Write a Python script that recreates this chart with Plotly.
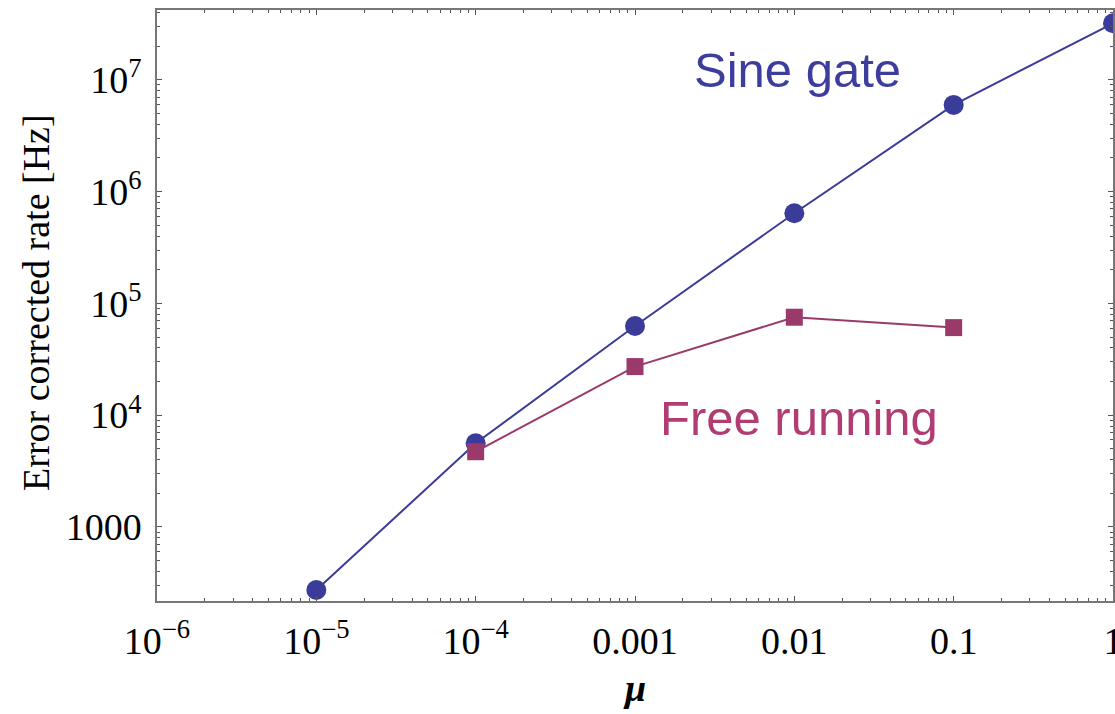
import plotly.graph_objects as go

# Error corrected detection rate versus mean photon number mu
mu = [1e-5, 1e-4, 1e-3, 1e-2, 1e-1, 1.0]
sine_gate_rate = [273, 5610, 62800, 640000, 5.96e6, 3.2e7]

mu_free = [1e-4, 1e-3, 1e-2, 1e-1]
free_running_rate = [4710, 27200, 75200, 60700]

x_tick_vals = [1e-6, 1e-5, 1e-4, 1e-3, 1e-2, 1e-1, 1]
x_tick_text = ["10<sup>\u22126</sup>", "10<sup>\u22125</sup>", "10<sup>\u22124</sup>",
               "0.001", "0.01", "0.1", "1"]
y_tick_vals = [1e3, 1e4, 1e5, 1e6, 1e7]
y_tick_text = ["1000", "10<sup>4</sup>", "10<sup>5</sup>", "10<sup>6</sup>", "10<sup>7</sup>"]

BLUE = "#3b3b99"
BLUE_TEXT = "#3d3d9e"
PLUM = "#9a3a6a"
PLUM_TEXT = "#b03c72"
SERIF = "Liberation Serif"
SANS = "Liberation Sans"

fig = go.Figure()
fig.add_trace(go.Scatter(
    x=mu, y=sine_gate_rate, mode="lines+markers",
    line=dict(color=BLUE, width=2),
    marker=dict(symbol="circle", size=20, color=BLUE),
    showlegend=False,
))
fig.add_trace(go.Scatter(
    x=mu_free, y=free_running_rate, mode="lines+markers",
    line=dict(color=PLUM, width=2),
    marker=dict(symbol="square", size=17, color=PLUM),
    showlegend=False,
))

axis_common = dict(
    type="log",
    showgrid=False,
    zeroline=False,
    showline=True,
    linecolor="#777777",
    linewidth=1.5,
    mirror="allticks",
    ticks="inside",
    ticklen=5,
    tickwidth=1,
    tickcolor="#555555",
    tickmode="array",
    ticklabeloverflow="allow",
    automargin=False,
    tickfont=dict(family=SERIF, size=38, color="black"),
    minor=dict(dtick="D1", ticks="inside", ticklen=3, tickwidth=1,
               tickcolor="#555555", showgrid=False),
)

fig.update_xaxes(**axis_common, range=[-6, 0],
                 tickvals=x_tick_vals, ticktext=x_tick_text, ticklabelstandoff=6)
fig.update_yaxes(**axis_common, range=[2.338, 7.624],
                 tickvals=y_tick_vals, ticktext=y_tick_text, ticklabelstandoff=6)

fig.update_layout(
    width=1115, height=714,
    margin=dict(l=157, r=2, t=10, b=113, autoexpand=False),
    paper_bgcolor="white", plot_bgcolor="white",
    annotations=[
        dict(text="Sine gate", xref="paper", yref="paper", x=0.6705, y=0.898,
             xanchor="center", yanchor="middle", showarrow=False,
             font=dict(family=SANS, size=49, color=BLUE_TEXT)),
        dict(text="Free running", xref="paper", yref="paper", x=0.6715, y=0.3096,
             xanchor="center", yanchor="middle", showarrow=False,
             font=dict(family=SANS, size=49, color=PLUM_TEXT)),
        dict(text="Error corrected rate [Hz]", xref="paper", yref="paper",
             x=-0.1266, y=0.506, textangle=-90,
             xanchor="center", yanchor="middle", showarrow=False,
             font=dict(family=SERIF, size=38, color="black")),
        dict(text="<b><i>\u03bc</i></b>", xref="paper", yref="paper",
             x=0.499, y=-0.147, xanchor="center", yanchor="middle", showarrow=False,
             font=dict(family=SERIF, size=38, color="black")),
    ],
)

fig.write_html("out.html")
